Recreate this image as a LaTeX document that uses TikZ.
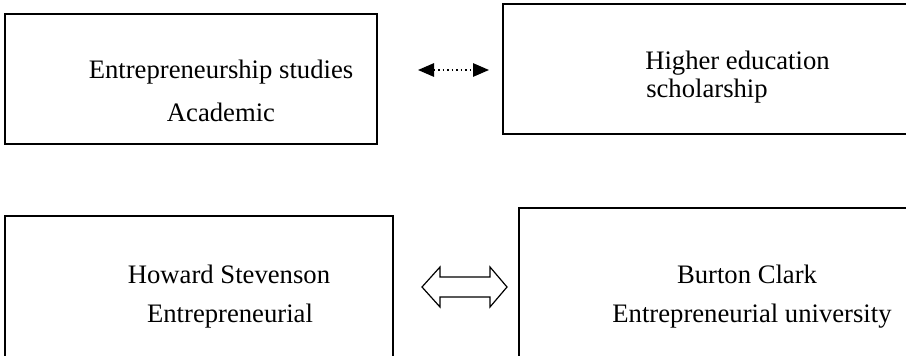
\documentclass[tikz,border=0pt]{standalone}
\usepackage{fontspec}
\setmainfont{Liberation Serif}
\usetikzlibrary{arrows.meta}
\definecolor{enink}{HTML}{000000}
\tikzset{
  enbox/.style={
    draw=enink, line width=1.5pt, inner sep=0pt},
  entext/.style={
    anchor=base, inner sep=0pt, font=\fontsize{20}{24}\selectfont, text=enink},
  endotarrow/.style={
    {Triangle[length=12pt, width=10pt]}-{Triangle[length=12pt, width=10pt]},
    draw=enink, line width=1.4pt, dash pattern=on 1.2pt off 2.2pt},
  enhollow/.style={draw=enink, line width=0.9pt, fill=white, line join=miter},
}

\begin{document}
\begin{tikzpicture}[x=0.75pt, y=-0.75pt]

% Page frame.
\useasboundingbox (0, 0) rectangle (906, 356);
\clip (0, 0) rectangle (906, 356);

% Upper row.
\node[enbox, minimum width=279pt, minimum height=97.5pt] (studies) at (191, 79) {};
\node[entext] (studiesa) at (221, 79) {Entrepreneurship studies};
\node[entext] (studiesb) at (221, 122) {Academic};

\node[enbox, minimum width=313pt, minimum height=97.5pt] (scholar) at (711.5, 69) {};
\node[entext, anchor=base west] (scholara) at (645, 70) {Higher education};
\node[entext, anchor=base west] (scholarb) at (646, 98) {scholarship};

% Dotted link between the upper boxes.
\coordinate (dotl) at (418, 70);
\coordinate (dotr) at (489, 70);
\draw[endotarrow] (dotl) -- (dotr);

% Lower row.
\node[enbox, minimum width=291pt, minimum height=123pt] (stevenson) at (199, 298) {};
\node[entext] (stevensona) at (229, 283) {Howard Stevenson};
\node[entext] (stevensonb) at (230, 322) {Entrepreneurial};

\node[enbox, minimum width=301pt, minimum height=129pt] (clark) at (719.5, 294) {};
\node[entext] (clarka) at (747, 283) {Burton Clark};
\node[entext] (clarkb) at (752, 322) {Entrepreneurial university};

% Hollow double arrow between the lower boxes.
\coordinate (link) at (464.5, 287);
\draw[enhollow] ([xshift=-42.5*0.75pt]link)
  -- ++(18, -20) -- ++(0, 10) -- ++(50, 0) -- ++(0, -10)
  -- ++(17, 20) -- ++(-17, 20) -- ++(0, -10) -- ++(-50, 0)
  -- ++(0, 10) -- cycle;

\end{tikzpicture}
\end{document}
